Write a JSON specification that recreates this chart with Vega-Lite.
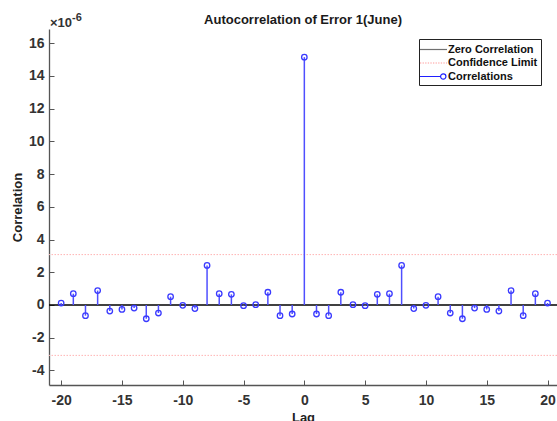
{
  "$schema": "https://vega.github.io/schema/vega-lite/v6.json",
  "width": 508,
  "height": 356,
  "autosize": {"type": "none"},
  "padding": {"left": 49, "top": 29, "right": 0, "bottom": 36},
  "background": "white",
  "title": {
    "text": "Autocorrelation of Error 1(June)",
    "font": "Liberation Sans",
    "fontSize": 13,
    "fontWeight": "bold",
    "color": "#1a1a1a",
    "anchor": "middle",
    "offset": -15
  },
  "datasets": {
    "acf": [
      {"lag": -20, "value": 0.12}, {"lag": -19, "value": 0.69}, {"lag": -18, "value": -0.65},
      {"lag": -17, "value": 0.88}, {"lag": -16, "value": -0.37}, {"lag": -15, "value": -0.27},
      {"lag": -14, "value": -0.19}, {"lag": -13, "value": -0.84}, {"lag": -12, "value": -0.49},
      {"lag": -11, "value": 0.51}, {"lag": -10, "value": -0.02}, {"lag": -9, "value": -0.22},
      {"lag": -8, "value": 2.42}, {"lag": -7, "value": 0.69}, {"lag": -6, "value": 0.65},
      {"lag": -5, "value": -0.04}, {"lag": -4, "value": 0.02}, {"lag": -3, "value": 0.78},
      {"lag": -2, "value": -0.65}, {"lag": -1, "value": -0.55}, {"lag": 0, "value": 15.15},
      {"lag": 1, "value": -0.55}, {"lag": 2, "value": -0.65}, {"lag": 3, "value": 0.78},
      {"lag": 4, "value": 0.02}, {"lag": 5, "value": -0.04}, {"lag": 6, "value": 0.65},
      {"lag": 7, "value": 0.69}, {"lag": 8, "value": 2.42}, {"lag": 9, "value": -0.22},
      {"lag": 10, "value": -0.02}, {"lag": 11, "value": 0.51}, {"lag": 12, "value": -0.49},
      {"lag": 13, "value": -0.84}, {"lag": 14, "value": -0.19}, {"lag": 15, "value": -0.27},
      {"lag": 16, "value": -0.37}, {"lag": 17, "value": 0.88}, {"lag": 18, "value": -0.65},
      {"lag": 19, "value": 0.69}, {"lag": 20, "value": 0.12}
    ],
    "limits": [
      {"series": "Confidence Limit", "value": 3.08},
      {"series": "Confidence Limit", "value": -3.08}
    ],
    "zero": [{"series": "Zero Correlation", "value": 0}],
    "legend": [
      {"series": "Zero Correlation"},
      {"series": "Confidence Limit"},
      {"series": "Correlations"}
    ],
    "one": [{"note": "axis exponent"}]
  },
  "layer": [
    {
      "data": {"name": "limits"},
      "mark": {"type": "rule", "color": "#ffb3b3", "strokeDash": [1.5, 1.5], "strokeWidth": 1},
      "encoding": {
        "y": {"field": "value", "type": "quantitative",
          "scale": {"domain": [-4.89, 16.87], "nice": false, "zero": false},
          "axis": {"title": "Correlation", "values": [-4, -2, 0, 2, 4, 6, 8, 10, 12, 14, 16], "tickCount": 30, "labelOverlap": false, "labelExpr": "datum.value + ''"}}
      }
    },
    {
      "data": {"name": "zero"},
      "mark": {"type": "rule", "color": "#000000", "strokeWidth": 1.3},
      "encoding": {
        "y": {"field": "value", "type": "quantitative",
          "scale": {"domain": [-4.89, 16.87], "nice": false, "zero": false},
          "axis": {"title": "Correlation", "values": [-4, -2, 0, 2, 4, 6, 8, 10, 12, 14, 16], "tickCount": 30, "labelOverlap": false, "labelExpr": "datum.value + ''"}}
      }
    },
    {
      "data": {"name": "acf"},
      "mark": {"type": "rule", "color": "#4f4fff", "strokeWidth": 1.5},
      "encoding": {
        "x": {"field": "lag", "type": "quantitative",
          "scale": {"domain": [-21, 20.78], "nice": false, "zero": false},
          "axis": {"title": "Lag", "values": [-20, -15, -10, -5, 0, 5, 10, 15, 20], "tickCount": 30, "labelOverlap": false, "labelExpr": "datum.value + ''"}},
        "y": {"field": "value", "type": "quantitative",
          "scale": {"domain": [-4.89, 16.87], "nice": false, "zero": false},
          "axis": {"title": "Correlation", "values": [-4, -2, 0, 2, 4, 6, 8, 10, 12, 14, 16], "tickCount": 30, "labelOverlap": false, "labelExpr": "datum.value + ''"}},
        "y2": {"datum": 0}
      }
    },
    {
      "data": {"name": "acf"},
      "mark": {"type": "point", "shape": "circle", "filled": false, "color": "#3a3aff", "strokeWidth": 1.3, "size": 30, "opacity": 1},
      "encoding": {
        "x": {"field": "lag", "type": "quantitative",
          "scale": {"domain": [-21, 20.78], "nice": false, "zero": false},
          "axis": {"title": "Lag", "values": [-20, -15, -10, -5, 0, 5, 10, 15, 20], "tickCount": 30, "labelOverlap": false, "labelExpr": "datum.value + ''"}},
        "y": {"field": "value", "type": "quantitative",
          "scale": {"domain": [-4.89, 16.87], "nice": false, "zero": false},
          "axis": {"title": "Correlation", "values": [-4, -2, 0, 2, 4, 6, 8, 10, 12, 14, 16], "tickCount": 30, "labelOverlap": false, "labelExpr": "datum.value + ''"}}
      }
    },
    {
      "data": {"name": "legend"},
      "mark": {"type": "point", "filled": false, "strokeWidth": 1.2, "opacity": 1},
      "encoding": {
        "x": {"field": "lag", "type": "quantitative",
          "scale": {"domain": [-21, 20.78], "nice": false, "zero": false},
          "axis": {"title": "Lag", "values": [-20, -15, -10, -5, 0, 5, 10, 15, 20], "tickCount": 30, "labelOverlap": false, "labelExpr": "datum.value + ''"}},
        "y": {"field": "value", "type": "quantitative",
          "scale": {"domain": [-4.89, 16.87], "nice": false, "zero": false},
          "axis": {"title": "Correlation", "values": [-4, -2, 0, 2, 4, 6, 8, 10, 12, 14, 16], "tickCount": 30, "labelOverlap": false, "labelExpr": "datum.value + ''"}},
        "color": {"field": "series", "type": "nominal",
          "scale": {"domain": ["Zero Correlation", "Confidence Limit", "Correlations"], "range": ["#707070", "#ff9a9a", "#2020ff"]},
          "legend": {"title": null}},
        "shape": {"field": "series", "type": "nominal",
          "scale": {"domain": ["Zero Correlation", "Confidence Limit", "Correlations"],
            "range": [
              "M-2.08,0H2.08",
              "M-2.08,0H-1.88M-1.68,0H-1.48M-1.28,0H-1.08M-0.88,0H-0.68M-0.48,0H-0.28M-0.08,0H0.12M0.32,0H0.52M0.72,0H0.92M1.12,0H1.32M1.52,0H1.72M1.92,0H2.08",
              "M-2.08,0H1.09M1.91,0A0.41,0.41 0 1,1 1.09,0A0.41,0.41 0 1,1 1.91,0"
            ]},
          "legend": {"title": null}}
      }
    },
    {
      "data": {"name": "one"},
      "mark": {"type": "text", "text": "×10", "align": "left", "baseline": "alphabetic", "font": "Liberation Sans", "fontSize": 13, "fontWeight": "bold", "color": "#333333", "dx": 1, "dy": -2},
      "encoding": {
        "x": {"datum": -21, "type": "quantitative", "scale": {"domain": [-21, 20.78], "nice": false, "zero": false}},
        "y": {"datum": 16.87, "type": "quantitative", "scale": {"domain": [-4.89, 16.87], "nice": false, "zero": false}}
      }
    },
    {
      "data": {"name": "one"},
      "mark": {"type": "text", "text": "-6", "align": "left", "baseline": "alphabetic", "font": "Liberation Sans", "fontSize": 11, "fontWeight": "bold", "color": "#333333", "dx": 23, "dy": -8},
      "encoding": {
        "x": {"datum": -21, "type": "quantitative", "scale": {"domain": [-21, 20.78], "nice": false, "zero": false}},
        "y": {"datum": 16.87, "type": "quantitative", "scale": {"domain": [-4.89, 16.87], "nice": false, "zero": false}}
      }
    }
  ],
  "config": {
    "view": {"stroke": null},
    "axis": {
      "grid": false,
      "domainColor": "#555555",
      "domainWidth": 1.3,
      "tickColor": "#555555",
      "tickWidth": 1,
      "tickSize": -5,
      "labelOverlap": false,
      "labelFont": "Liberation Sans",
      "labelFontSize": 14,
      "labelFontWeight": "bold",
      "labelColor": "#333333",
      "titleFont": "Liberation Sans",
      "titleFontSize": 13,
      "titleFontWeight": "bold",
      "titleColor": "#222222"
    },
    "axisX": {"labelPadding": 13, "titlePadding": 4},
    "axisY": {"labelPadding": 10, "titlePadding": 4},
    "legend": {
      "orient": "none",
      "legendX": 370,
      "legendY": 10,
      "strokeColor": "#222222",
      "fillColor": "white",
      "padding": 3,
      "symbolSize": 169,
      "symbolStrokeWidth": 1.2,
      "symbolOffset": 4,
      "rowPadding": 0.5,
      "labelOffset": 7,
      "labelFont": "Liberation Sans",
      "labelFontSize": 11,
      "labelFontWeight": "bold",
      "labelColor": "#111111"
    }
  }
}
